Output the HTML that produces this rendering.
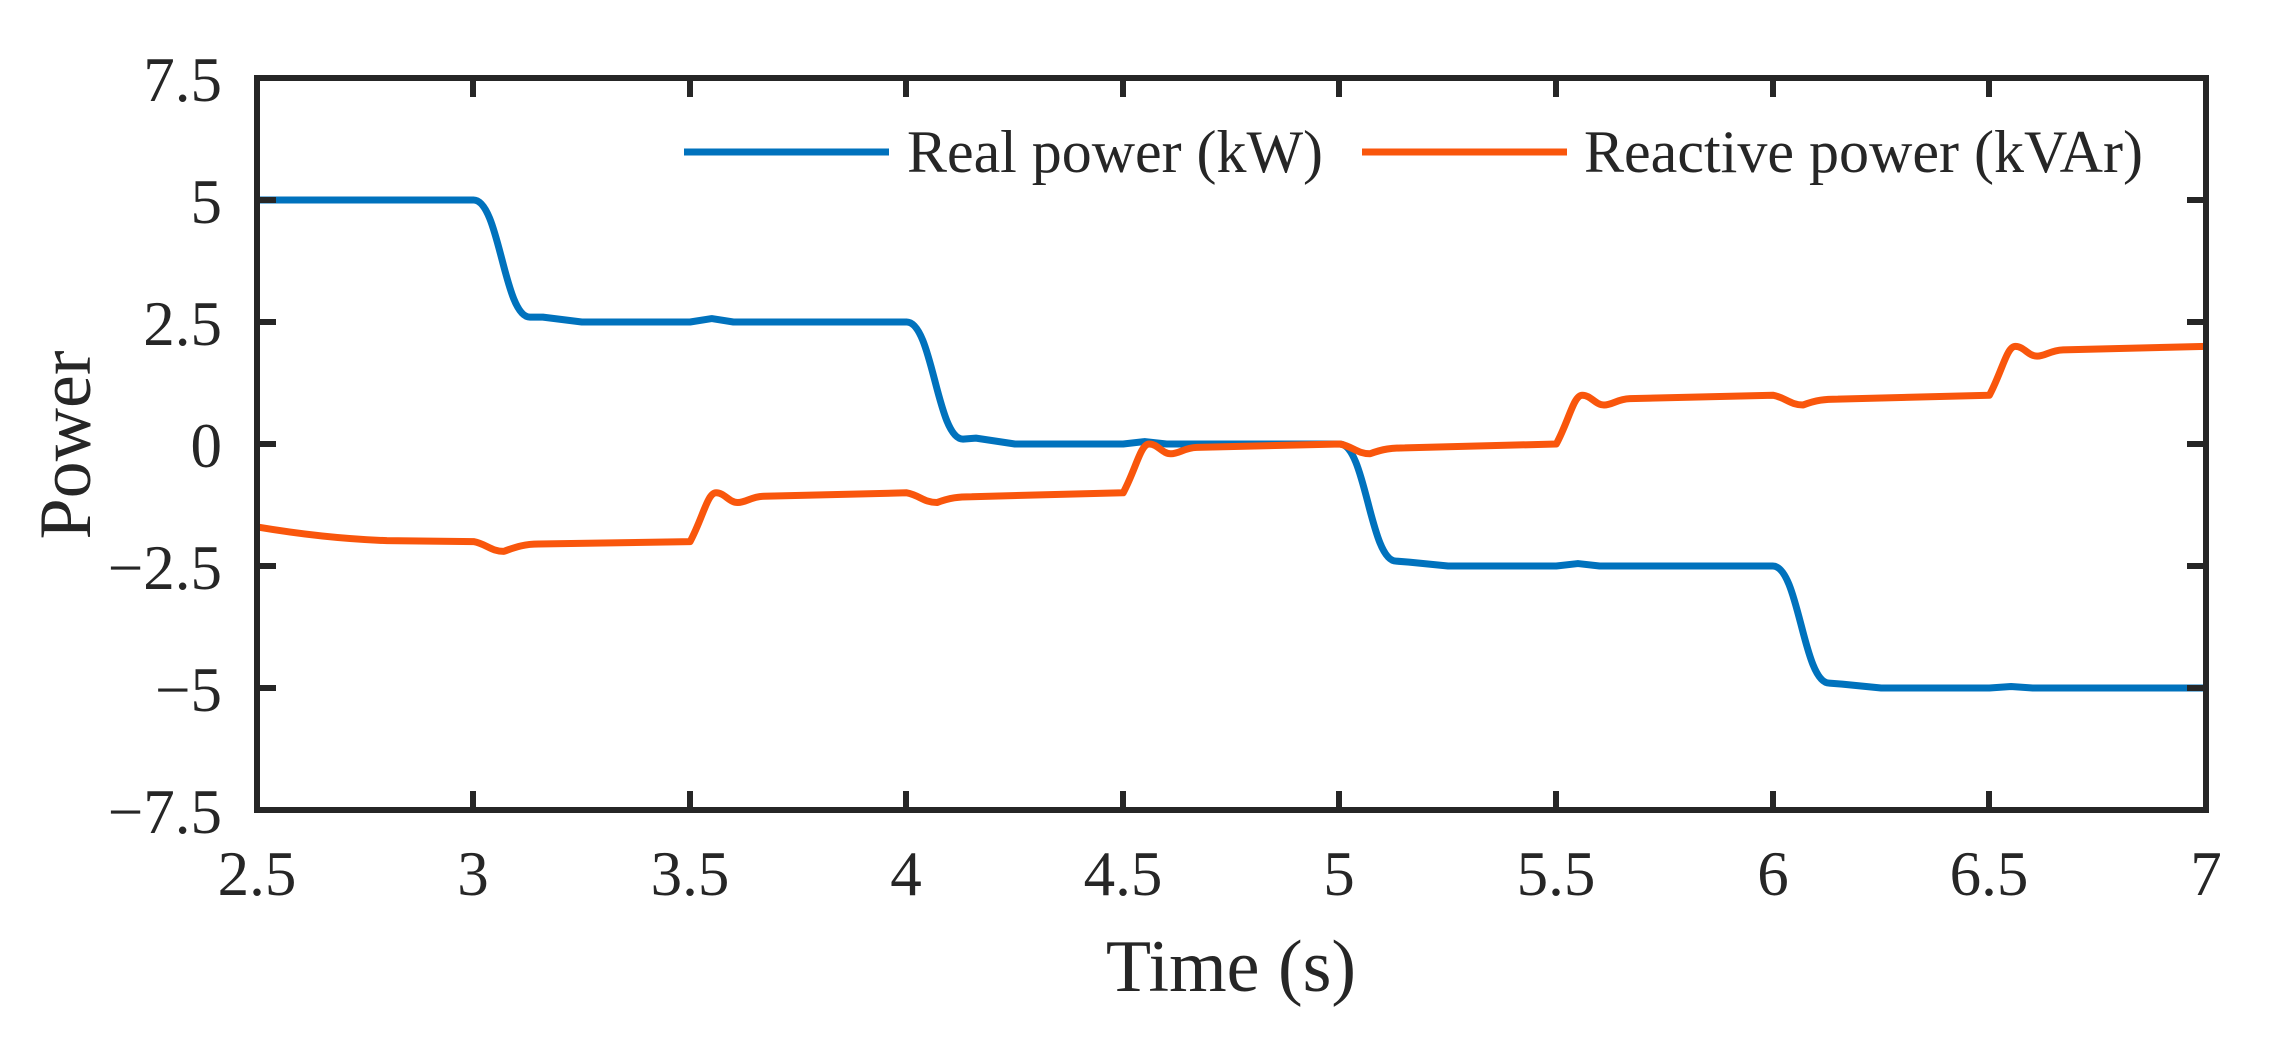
<!DOCTYPE html>
<html><head><meta charset="utf-8"><style>
html,body{margin:0;padding:0;background:#fff;}
svg{display:block;}
text{font-family:"Liberation Serif",serif;fill:#262626;}
</style></head><body>
<svg width="2270" height="1044" viewBox="0 0 2270 1044" xmlns="http://www.w3.org/2000/svg">
<rect width="2270" height="1044" fill="#fff"/>
<g transform="translate(257,444) scale(433.1,-48.8)" fill="none" stroke-linejoin="round">
<path vector-effect="non-scaling-stroke" stroke="#0072BD" stroke-width="7" d="M0,5 L0.5,5 C0.56,5 0.57,2.6 0.63,2.6 L0.66,2.6 L0.75,2.5 L1.0,2.5 L1.05,2.57 L1.1,2.5 L1.5,2.5 C1.56,2.5 1.57,0.1 1.63,0.1 L1.66,0.12 L1.75,0 L2.0,0 L2.05,0.05 L2.1,0 L2.5,0 C2.56,0 2.57,-2.4 2.63,-2.4 L2.66,-2.42 L2.75,-2.5 L3.0,-2.5 L3.05,-2.45 L3.1,-2.5 L3.5,-2.5 C3.56,-2.5 3.57,-4.9 3.63,-4.9 L3.66,-4.92 L3.75,-5 L4.0,-5 L4.05,-4.97 L4.1,-5 L4.5,-5"/>
<path vector-effect="non-scaling-stroke" stroke="#F9560C" stroke-width="7" d="M0,-1.7 C0.1,-1.85 0.2,-1.95 0.3,-1.98 L0.5,-2.0 C0.53,-2.05 0.54,-2.2 0.57,-2.2 C0.6,-2.1 0.62,-2.05 0.65,-2.05 L1.0,-2.0 C1.03,-1.5 1.04,-1.0 1.06,-1.0 C1.08,-1.0 1.09,-1.2 1.11,-1.2 C1.13,-1.2 1.14,-1.08 1.17,-1.07 L1.5,-1.0 C1.53,-1.05 1.54,-1.2 1.57,-1.2 C1.6,-1.1 1.62,-1.08 1.65,-1.08 L2.0,-1.0 C2.03,-0.5 2.04,0 2.06,0 C2.08,0 2.09,-0.2 2.11,-0.2 C2.13,-0.2 2.14,-0.08 2.17,-0.07 L2.5,0 C2.53,-0.05 2.54,-0.2 2.57,-0.2 C2.6,-0.1 2.62,-0.08 2.65,-0.08 L3.0,0 C3.03,0.5 3.04,1.0 3.06,1.0 C3.08,1.0 3.09,0.8 3.11,0.8 C3.13,0.8 3.14,0.92 3.17,0.93 L3.5,1.0 C3.53,0.95 3.54,0.8 3.57,0.8 C3.6,0.9 3.62,0.92 3.65,0.92 L4.0,1.0 C4.03,1.5 4.04,2.0 4.06,2.0 C4.08,2.0 4.09,1.8 4.11,1.8 C4.13,1.8 4.14,1.92 4.17,1.93 L4.5,2.0"/>
</g>
<rect x="257" y="78" width="1949" height="732" fill="none" stroke="#262626" stroke-width="6"/>
<g stroke="#262626" stroke-width="6">
<path d="M690,78v19M690,810v-19M1123,78v19M1123,810v-19M1556,78v19M1556,810v-19M1989,78v19M1989,810v-19M906,78v19M906,810v-19M1339,78v19M1339,810v-19M1773,78v19M1773,810v-19M473,78v19M473,810v-19"/>
<path d="M257,200h19M2206,200h-19M257,322h19M2206,322h-19M257,444h19M2206,444h-19M257,566h19M2206,566h-19M257,688h19M2206,688h-19"/>
</g>
<g font-size="63" text-anchor="end">
<text x="222" y="101">7.5</text>
<text x="222" y="223">5</text>
<text x="222" y="345">2.5</text>
<text x="222" y="467">0</text>
<text x="222" y="589">−2.5</text>
<text x="222" y="711">−5</text>
<text x="222" y="833">−7.5</text>
</g>
<g font-size="63" text-anchor="middle">
<text x="257" y="895">2.5</text>
<text x="473" y="895">3</text>
<text x="690" y="895">3.5</text>
<text x="906" y="895">4</text>
<text x="1123" y="895">4.5</text>
<text x="1339" y="895">5</text>
<text x="1556" y="895">5.5</text>
<text x="1773" y="895">6</text>
<text x="1989" y="895">6.5</text>
<text x="2206" y="895">7</text>
</g>
<text x="1231" y="991" font-size="74" text-anchor="middle">Time (s)</text>
<text transform="translate(90,445) rotate(-90)" font-size="74" text-anchor="middle">Power</text>
<line x1="684" y1="152" x2="889" y2="152" stroke="#0072BD" stroke-width="7"/>
<text x="907" y="172" font-size="60" textLength="416" lengthAdjust="spacingAndGlyphs">Real power (kW)</text>
<line x1="1362" y1="152" x2="1567" y2="152" stroke="#F9560C" stroke-width="7"/>
<text x="1584" y="172" font-size="60" textLength="559" lengthAdjust="spacingAndGlyphs">Reactive power (kVAr)</text>
</svg>
</body></html>
